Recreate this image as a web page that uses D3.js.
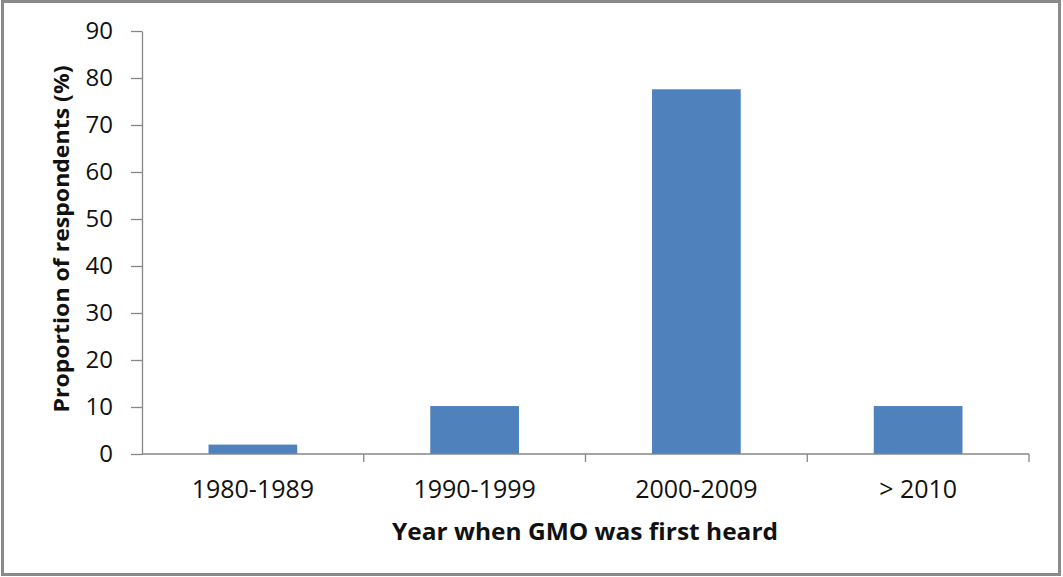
<!DOCTYPE html>
<html>
<head>
<meta charset="utf-8">
<script src="https://cdn.jsdelivr.net/npm/d3@7"></script>
<style>
  html, body { margin: 0; padding: 0; background: #fff; }
  svg { display: block; }
  text { font-family: "Open Sans", "Noto Sans", sans-serif; fill: #111; }
</style>
</head>
<body>
<svg id="chart" width="1063" height="577"></svg>
<script>
// Year ranges and share of respondents (%)
const categories = ["1980-1989", "1990-1999", "2000-2009", "> 2010"];
const proportions = [2.0, 10.2, 77.6, 10.2];
const yTicks = [0, 10, 20, 30, 40, 50, 60, 70, 80, 90];
const xTitle = "Year when GMO was first heard";
const yTitle = "Proportion of respondents (%)";

const svg = d3.select("#chart");
const plot = { left: 142, right: 1029, top: 31, bottom: 454 };
const axisColor = "#868686";

// outer frame
svg.append("rect")
  .attr("x", 2.5).attr("y", 1.5)
  .attr("width", 1057).attr("height", 573)
  .attr("fill", "#fff")
  .attr("stroke", "#8a8a8a").attr("stroke-width", 3);

const x = d3.scaleBand()
  .domain(categories)
  .range([plot.left, plot.right])
  .paddingInner(0.6)
  .paddingOuter(0.3);

const y = d3.scaleLinear()
  .domain([0, 90])
  .range([plot.bottom, plot.top]);

// bars
svg.append("g").selectAll("rect")
  .data(categories)
  .join("rect")
  .attr("x", d => x(d))
  .attr("width", x.bandwidth())
  .attr("y", (d, i) => y(proportions[i]))
  .attr("height", (d, i) => y(0) - y(proportions[i]))
  .attr("fill", "#4F81BD");

// y axis
const yAxis = svg.append("g")
  .attr("transform", `translate(${plot.left},0)`)
  .call(d3.axisLeft(y).tickValues(yTicks).tickSize(11).tickPadding(18).tickSizeOuter(0));
yAxis.select(".domain").attr("stroke", axisColor).attr("stroke-width", 1.3);
yAxis.selectAll(".tick line").attr("stroke", axisColor).attr("stroke-width", 1.3);
yAxis.selectAll(".tick text")
  .attr("font-size", 24)
  .attr("font-family", "Open Sans, sans-serif")
  .attr("fill", "#111");

// x axis: baseline plus category boundary ticks
const xAxisG = svg.append("g");
xAxisG.append("line")
  .attr("x1", plot.left).attr("x2", plot.right)
  .attr("y1", y(0)).attr("y2", y(0))
  .attr("stroke", axisColor).attr("stroke-width", 1.3);
const step = x.step();
const boundaries = categories.map(c => x(c) - x.paddingInner() * step / 2).concat([plot.right]);
xAxisG.selectAll("line.bound")
  .data(boundaries.slice(1))
  .join("line")
  .attr("class", "bound")
  .attr("x1", d => d).attr("x2", d => d)
  .attr("y1", y(0)).attr("y2", y(0) + 8)
  .attr("stroke", axisColor).attr("stroke-width", 1.3);

xAxisG.selectAll("text.cat")
  .data(categories)
  .join("text")
  .attr("class", "cat")
  .attr("x", d => x(d) + x.bandwidth() / 2)
  .attr("y", 498)
  .attr("text-anchor", "middle")
  .attr("font-size", 25)
  .text(d => d);

// axis titles
svg.append("text")
  .attr("x", 585)
  .attr("y", 540)
  .attr("text-anchor", "middle")
  .attr("font-size", 23)
  .attr("font-weight", "bold")
  .attr("textLength", 386)
  .attr("lengthAdjust", "spacingAndGlyphs")
  .text(xTitle);

svg.append("text")
  .attr("transform", `translate(69,239) rotate(-90)`)
  .attr("text-anchor", "middle")
  .attr("font-size", 22)
  .attr("font-weight", "bold")
  .attr("textLength", 347)
  .attr("lengthAdjust", "spacingAndGlyphs")
  .text(yTitle);
</script>
</body>
</html>
